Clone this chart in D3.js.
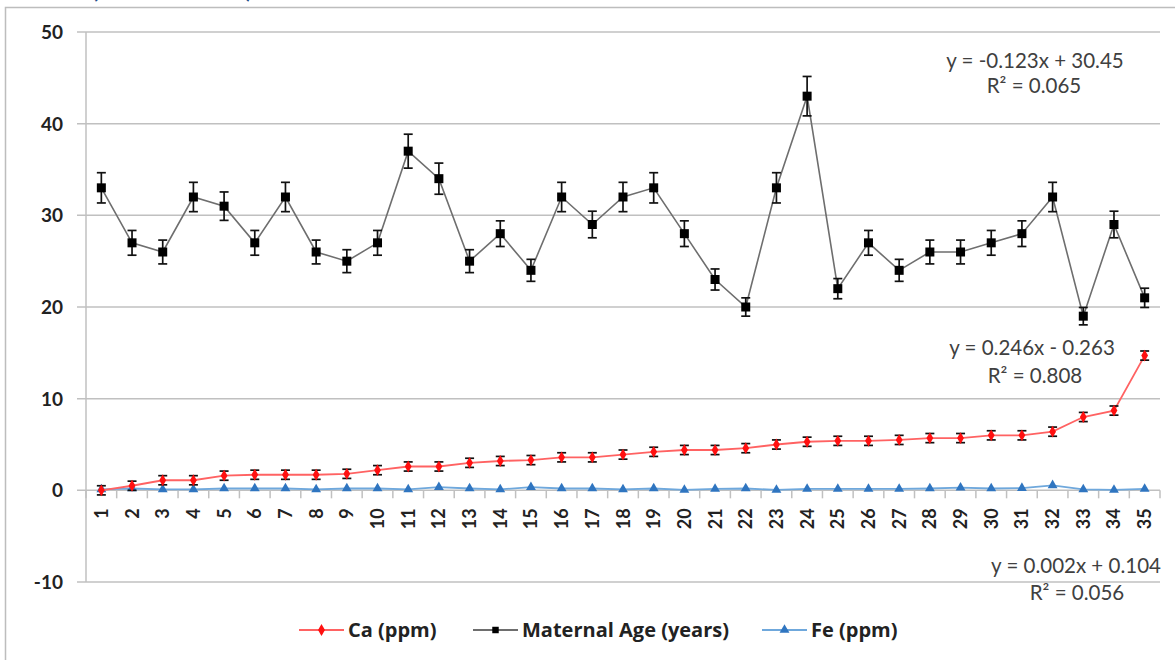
<!DOCTYPE html>
<html><head><meta charset="utf-8">
<script src="https://cdn.jsdelivr.net/npm/d3@7"></script>
<style>body{margin:0;background:#fff}svg{display:block}</style>
</head><body>
<svg id="c" width="1175" height="660"></svg>
<script>
const categories = d3.range(1, 36).map(String);
const maternalAge = [33,27,26,32,31,27,32,26,25,27,37,34,25,28,24,32,29,32,33,28,23,20,33,43,22,27,24,26,26,27,28,32,19,29,21];
const ca = [0,0.5,1.1,1.1,1.6,1.7,1.7,1.7,1.8,2.2,2.6,2.6,3.0,3.2,3.3,3.6,3.6,3.9,4.2,4.4,4.4,4.6,5.0,5.3,5.4,5.4,5.5,5.7,5.7,6.0,6.0,6.4,8.0,8.7,14.7];
const fe = [0.1,0.2,0.1,0.1,0.2,0.2,0.2,0.1,0.2,0.2,0.1,0.35,0.2,0.1,0.35,0.2,0.2,0.1,0.2,0.05,0.15,0.2,0.05,0.15,0.15,0.15,0.15,0.2,0.3,0.2,0.25,0.55,0.1,0.05,0.15];
const caError = 0.5;          // fixed error
const ageErrorPct = 0.05;     // percentage error
const yTicks = [-10,0,10,20,30,40,50];
const trendLabels = [
  {eq:"y = -0.123x + 30.45", r2:"R² = 0.065", x:1035, y:68, rx:1034, ry:93},
  {eq:"y = 0.246x - 0.263", r2:"R² = 0.808", x:1032, y:355, rx:1035, ry:383},
  {eq:"y = 0.002x + 0.104", r2:"R² = 0.056", x:1076, y:573, rx:1077, ry:600}
];
const legendItems = [
  {name:"Ca (ppm)", color:"#ff6262", marker:"diamond", x:299},
  {name:"Maternal Age (years)", color:"#6e6e6e", marker:"square", x:473},
  {name:"Fe (ppm)", color:"#6fa8dc", marker:"triangle", x:762}
];

const svg = d3.select("#c");
const font = "Lato, 'Liberation Sans', sans-serif";
const legendFont = "'Open Sans', 'Liberation Sans', sans-serif";
const pLeft = 86, pRight = 1160, pTop = 32, pBottom = 582;
const x = d3.scaleBand().domain(categories).range([pLeft, pRight]);
const y = d3.scaleLinear().domain([-10, 50]).range([pBottom, pTop]);
const cx = d => x(d) + x.bandwidth()/2;

// border
svg.append("path").attr("d","M5.5,660 V7.5 H1175").attr("fill","none").attr("stroke","#bdbdbd").attr("stroke-width",1.5);
// title fragment (cut off at top, as in the original)
svg.append("text").attr("x",92).attr("y",-2).attr("font-family",font).attr("font-weight","bold").attr("font-size",22).attr("fill","#1f4e8c").text("(");
svg.append("text").attr("x",246).attr("y",-2).attr("font-family",font).attr("font-weight","bold").attr("font-size",22).attr("fill","#1f4e8c").text(")");

// gridlines
svg.append("g").selectAll("line").data(yTicks).join("line")
  .attr("x1",pLeft-9).attr("x2",pRight).attr("y1",d=>y(d)).attr("y2",d=>y(d))
  .attr("stroke","#c0c0c0").attr("stroke-width",1.5);
// y axis line
svg.append("line").attr("x1",pLeft).attr("x2",pLeft).attr("y1",pTop).attr("y2",pBottom).attr("stroke","#c0c0c0").attr("stroke-width",1.5);
// y tick labels
svg.append("g").selectAll("text").data(yTicks).join("text")
  .attr("x",63).attr("y",d=>y(d)).attr("dy","0.36em").attr("text-anchor","end")
  .attr("font-family",font).attr("font-weight","bold").attr("font-size",19).attr("fill","#222").text(d=>d);
// x axis (at 0)
const xb = categories.map(c=>x(c)).concat([pRight]);
svg.append("g").selectAll("line").data(xb).join("line")
  .attr("x1",d=>d).attr("x2",d=>d).attr("y1",y(0)).attr("y2",y(0)+8).attr("stroke","#c0c0c0").attr("stroke-width",1.5);
svg.append("g").selectAll("text").data(categories).join("text")
  .attr("transform",d=>`translate(${cx(d)+6.5},${y(0)+18}) rotate(-90)`)
  .attr("text-anchor","end").attr("font-family",font).attr("font-weight","bold").attr("font-size",18).attr("fill","#222").text(d=>d);

// error bars
function errBars(vals, errFn, color){
  const g = svg.append("g").attr("stroke",color).attr("stroke-width",1.7);
  vals.forEach((v,i)=>{
    const c = cx(categories[i]), e = errFn(v);
    g.append("line").attr("x1",c).attr("x2",c).attr("y1",y(v+e)).attr("y2",y(v-e));
    g.append("line").attr("x1",c-4.5).attr("x2",c+4.5).attr("y1",y(v+e)).attr("y2",y(v+e));
    g.append("line").attr("x1",c-4.5).attr("x2",c+4.5).attr("y1",y(v-e)).attr("y2",y(v-e));
  });
}
const line = d3.line().x((d,i)=>cx(categories[i])).y(d=>y(d));

// Fe
svg.append("path").datum(fe).attr("d",line).attr("fill","none").attr("stroke","#6fa8dc").attr("stroke-width",1.8);
svg.append("g").selectAll("path").data(fe).join("path")
  .attr("d",d3.symbol(d3.symbolTriangle,42)).attr("transform",(d,i)=>`translate(${cx(categories[i])},${y(d)})`).attr("fill","#2f75c0");

// Ca
svg.append("path").datum(ca).attr("d",line).attr("fill","none").attr("stroke","#ff6262").attr("stroke-width",1.8);
errBars(ca, ()=>caError, "#111");
svg.append("g").selectAll("path").data(ca).join("path")
  .attr("d",d3.symbol(d3.symbolDiamond,40)).attr("transform",(d,i)=>`translate(${cx(categories[i])},${y(d)})`).attr("fill","#ff1010");

// Maternal age
svg.append("path").datum(maternalAge).attr("d",line).attr("fill","none").attr("stroke","#6e6e6e").attr("stroke-width",1.6);
errBars(maternalAge, v=>v*ageErrorPct, "#111");
svg.append("g").selectAll("rect").data(maternalAge).join("rect")
  .attr("x",(d,i)=>cx(categories[i])-4.5).attr("y",d=>y(d)-4.5).attr("width",9).attr("height",9).attr("fill","#000");

// trendline labels
trendLabels.forEach(t=>{
  svg.append("text").attr("x",t.x).attr("y",t.y).attr("text-anchor","middle").attr("font-family",font).attr("font-size",20.5).attr("fill","#404040").text(t.eq);
  svg.append("text").attr("x",t.rx).attr("y",t.ry).attr("text-anchor","middle").attr("font-family",font).attr("font-size",20.5).attr("fill","#404040").text(t.r2);
});

// legend
const ly = 630;
legendItems.forEach(it=>{
  const g = svg.append("g");
  g.append("line").attr("x1",it.x).attr("x2",it.x+45).attr("y1",ly).attr("y2",ly).attr("stroke",it.color).attr("stroke-width",1.8);
  const sym = it.marker==="diamond"?d3.symbolDiamond:it.marker==="square"?d3.symbolSquare:d3.symbolTriangle;
  const fill = it.marker==="diamond"?"#ff1010":it.marker==="square"?"#000":"#2f75c0";
  g.append("path").attr("d",d3.symbol(sym,42)).attr("transform",`translate(${it.x+22.5},${ly})`).attr("fill",fill);
  g.append("text").attr("x",it.x+49).attr("y",ly).attr("dy","0.36em").attr("font-family",legendFont).attr("font-weight","bold").attr("font-size",20).attr("fill","#222").text(it.name);
});
</script>
</body></html>
